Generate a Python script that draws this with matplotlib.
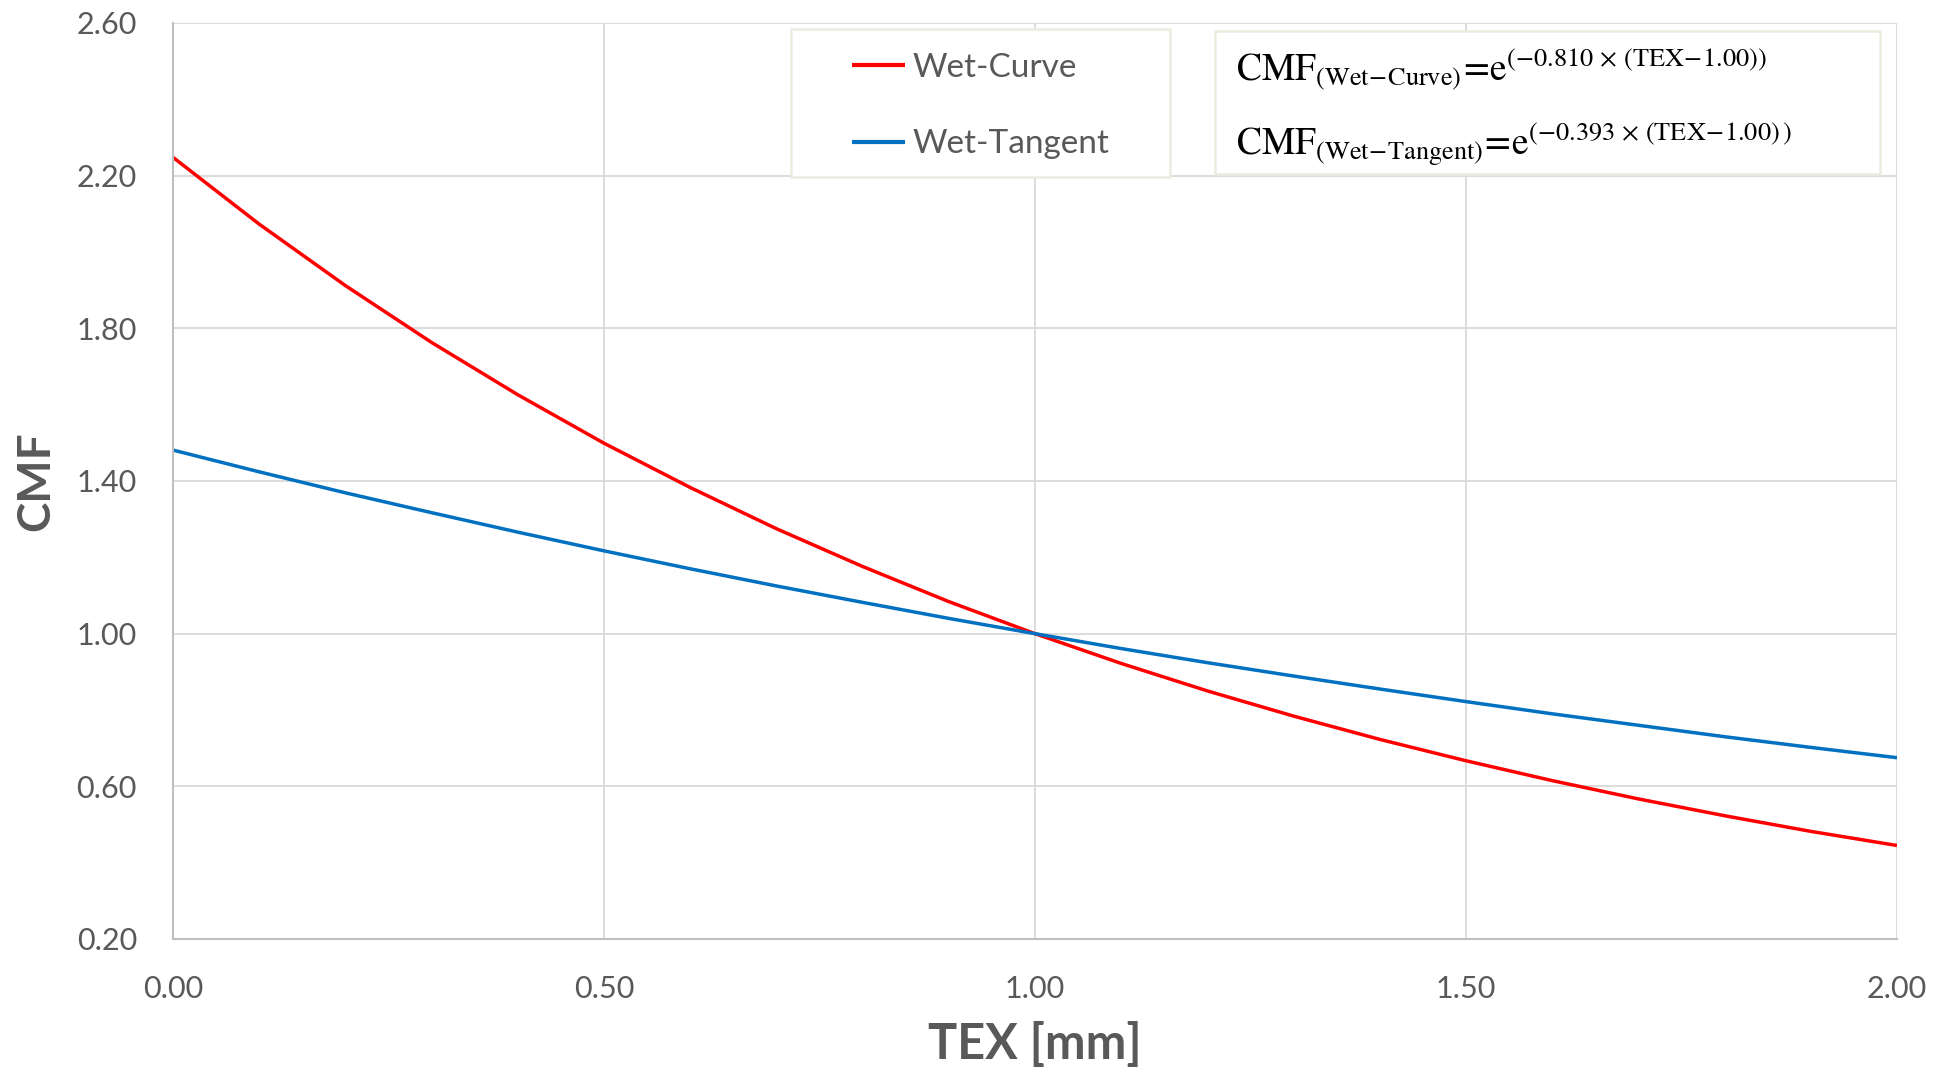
import matplotlib
matplotlib.use("Agg")
import matplotlib.pyplot as plt
from matplotlib.patches import Rectangle

# Crash modification factor vs. texture depth
tex = [0.0, 0.1, 0.2, 0.3, 0.4, 0.5, 0.6, 0.7, 0.8, 0.9, 1.0,
       1.1, 1.2, 1.3, 1.4, 1.5, 1.6, 1.7, 1.8, 1.9, 2.0]
cmf_wet_curve = [2.248, 2.073, 1.912, 1.763, 1.626, 1.499, 1.383, 1.275, 1.176, 1.084, 1.000,
                 0.922, 0.850, 0.784, 0.723, 0.667, 0.615, 0.567, 0.523, 0.482, 0.445]
cmf_wet_tangent = [1.481, 1.424, 1.369, 1.317, 1.266, 1.217, 1.170, 1.125, 1.082, 1.040, 1.000,
                   0.961, 0.924, 0.889, 0.855, 0.822, 0.790, 0.760, 0.730, 0.702, 0.675]
series_labels = ["Wet-Curve", "Wet-Tangent"]
x_ticks = [0.0, 0.5, 1.0, 1.5, 2.0]
y_ticks = [0.2, 0.6, 1.0, 1.4, 1.8, 2.2, 2.6]
equations = [
    r"$\mathrm{CMF}_{\mathrm{(Wet\!-\!Curve)}}\!=\!\mathrm{e}^{(-0.810\,\times\,(\mathrm{TEX}\!-\!1.00))}$",
    r"$\mathrm{CMF}_{\mathrm{(Wet\!-\!Tangent)}}\!=\!\mathrm{e}^{(-0.393\,\times\,(\mathrm{TEX}\!-\!1.00)\,)}$",
]

W, H = 1944, 1067
plt.rcParams["font.family"] = ["Lato", "DejaVu Sans"]
plt.rcParams["mathtext.fontset"] = "stix"

fig = plt.figure(figsize=(W / 100, H / 100), dpi=100)
ax = fig.add_axes([173 / W, 1 - 939 / H, (1897 - 173) / W, (939 - 23) / H])

text_gray = "#595959"
grid_gray = "#D9D9D9"

l1, = ax.plot(tex, cmf_wet_curve, color="#FF0000", lw=2.5, solid_capstyle="butt")
l2, = ax.plot(tex, cmf_wet_tangent, color="#0070C0", lw=2.5, solid_capstyle="butt")

ax.set_xlim(0, 2.0)
ax.set_ylim(0.2, 2.6)
ax.set_xticks(x_ticks)
ax.set_yticks(y_ticks)
ax.set_xticklabels([f"{v:.2f}" for v in x_ticks])
ax.set_yticklabels([f"{v:.2f}" for v in y_ticks])
ax.tick_params(axis="both", length=0, labelsize=22, labelcolor=text_gray)
ax.tick_params(axis="x", pad=26)
ax.tick_params(axis="y", pad=26)
ax.grid(True, color=grid_gray, lw=1.3)
ax.set_axisbelow(True)
for side in ["top", "right"]:
    ax.spines[side].set_visible(False)
for side in ["left", "bottom"]:
    ax.spines[side].set_color("#BFBFBF")
    ax.spines[side].set_linewidth(1.5)

ax.set_xlabel("TEX [mm]", fontsize=35, fontweight="bold", color=text_gray, labelpad=13)
ax.set_ylabel("CMF", fontsize=33, fontweight="bold", color=text_gray, labelpad=14)

# Legend panel
def px_rect(x0, y0, x1, y1):
    return Rectangle((x0 / W, 1 - y1 / H), (x1 - x0) / W, (y1 - y0) / H,
                     transform=fig.transFigure, facecolor="white",
                     edgecolor="#EDEBE0", lw=1.8, zorder=5)

fig.patches.append(px_rect(791, 29, 1170, 177))
leg = fig.legend([l1, l2], series_labels, loc="center",
                 bbox_to_anchor=((791 + 1170) / 2 / W, 1 - (29 + 177 + 6) / 2 / H),
                 frameon=False, fontsize=24, handlelength=1.6, handletextpad=0.2,
                 labelspacing=1.4, labelcolor=text_gray)
leg.set_zorder(6)
for h in leg.get_lines():
    h.set_linewidth(3.0)

# Equation panel
fig.patches.append(px_rect(1215, 31, 1880, 174))
fig.text(1236 / W, 1 - 80 / H, equations[0], fontsize=27, color="black",
         ha="left", va="baseline", zorder=7)
fig.text(1236 / W, 1 - 156 / H, equations[1], fontsize=27, color="black",
         ha="left", va="baseline", zorder=7)

fig.savefig("out.png", dpi=100)
